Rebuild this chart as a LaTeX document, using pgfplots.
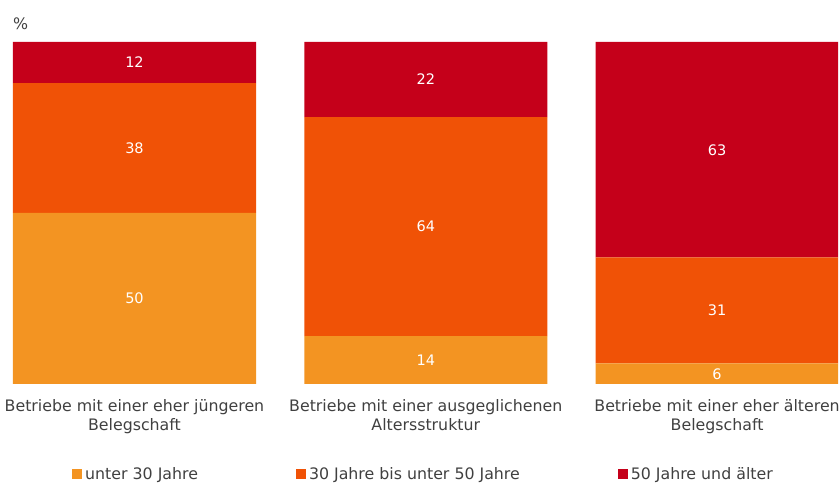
\documentclass[border=0pt]{standalone}
\usepackage{pgfplots}
\pgfplotsset{compat=1.18}
\usepackage{fontspec}
\setmainfont{DejaVu Sans}
\definecolor{cA}{HTML}{F39422}
\definecolor{cB}{HTML}{F05206}
\definecolor{cC}{HTML}{C5001A}
\definecolor{txt}{HTML}{404040}
\pgfplotsset{geom/.style={at={(13pt,100pt)}, anchor=south west, scale only axis,
  width=825pt, height=342pt, xmin=-0.4171, xmax=2.4151, ymin=0, ymax=100}}
\begin{document}
\begin{tikzpicture}[font=\fontsize{15.8}{19}\selectfont]
\useasboundingbox (0,0) rectangle (840pt,484pt);
\begin{axis}[geom,
  ybar stacked, bar width=243pt,
  axis line style={draw=none}, major tick length=0pt, ytick=\empty,
  xtick={0,1,2},
  xticklabels={{Betriebe mit einer eher jüngeren\\Belegschaft},
               {Betriebe mit einer ausgeglichenen\\Altersstruktur},
               {Betriebe mit einer eher älteren\\Belegschaft}},
  xticklabel style={align=center, text=txt, yshift=-12pt},
  title=\%, title style={at={(0,1)}, anchor=south west, inner sep=0pt, yshift=6pt, text=txt},
  legend columns=3,
  legend style={draw=none, fill=none, inner sep=0pt, at={(0.0715,-0.264)}, anchor=west,
    legend cell align=left, nodes={inner xsep=3pt, inner ysep=0pt, text=txt},
    /tikz/every even column/.append style={column sep=95pt}},
  legend image code/.code={\fill[#1] (0pt,-5pt) rectangle (10pt,5pt);},
]
\addplot[fill=cA, draw=none] coordinates {(0,50) (1,14) (2,6)};
\addlegendentry{unter 30 Jahre}
\addplot[fill=cB, draw=none] coordinates {(0,38) (1,64) (2,31)};
\addlegendentry{30 Jahre bis unter 50 Jahre}
\addplot[fill=cC, draw=none] coordinates {(0,12) (1,22) (2,63)};
\addlegendentry{50 Jahre und älter}
\end{axis}
\begin{axis}[geom, hide axis]
\addplot[draw=none, mark=none, nodes near coords, point meta=explicit symbolic,
  nodes near coords style={text=white, anchor=center, font=\fontsize{14.5}{17}\selectfont}] table[meta=lab]{
x y lab
0 25 50
0 69 38
0 94 12
1 7 14
1 46 64
1 89 22
2 3 6
2 21.5 31
2 68.5 63
};
\end{axis}
\end{tikzpicture}
\end{document}
